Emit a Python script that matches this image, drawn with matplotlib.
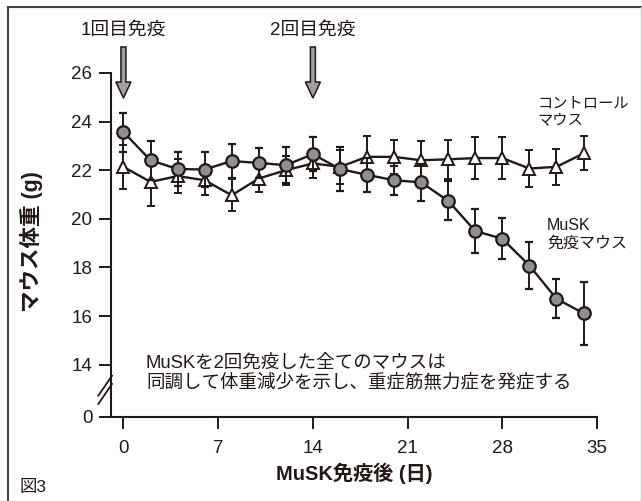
import numpy as np
import matplotlib
matplotlib.use('Agg')
import matplotlib.pyplot as plt
from matplotlib.patches import FancyArrow
from matplotlib.lines import Line2D

plt.rcParams['font.family'] = ['Liberation Sans', 'Noto Sans CJK JP']

# days after MuSK immunization
days = [0, 2, 4, 6, 8, 10, 12, 14, 16, 18, 20, 22, 24, 26, 28, 30, 32, 34]

# MuSK immunized mice (circles)
musk_mean = [23.57, 22.41, 22.05, 22.03, 22.38, 22.30, 22.21, 22.66, 22.05,
             21.81, 21.59, 21.50, 20.74, 19.50, 19.18, 18.08, 16.71, 16.12]
musk_err = [0.8, 0.8, 0.7, 0.7, 0.7, 0.6, 0.75, 0.7, 0.9,
            0.7, 0.6, 0.75, 0.8, 0.9, 0.85, 0.95, 0.8, 1.3]

# control mice (triangles)
ctrl_mean = [22.14, 21.52, 21.76, 21.59, 20.97, 21.66, 22.00, 22.28, 22.14,
             22.55, 22.55, 22.41, 22.45, 22.50, 22.50, 22.07, 22.14, 22.69]
ctrl_err = [0.9, 1.0, 0.7, 0.6, 0.65, 0.55, 0.6, 0.6, 0.7,
            0.85, 0.7, 0.8, 0.8, 0.85, 0.85, 0.75, 0.75, 0.7]

xticks = [0, 7, 14, 21, 28, 35]
ytick_vals = [0, 14, 16, 18, 20, 22, 24, 26]
immunizations = [0, 14]
immun_labels = ['1回目免疫', '2回目免疫']

# the y axis is broken: 0 is drawn just below 14
zero_pos = 11.85
ytick_pos = [zero_pos if v == 0 else v for v in ytick_vals]

fig = plt.figure(figsize=(6.42, 5.01), dpi=100)
ax = fig.add_axes([0.1729, 0.1677, 0.930 - 0.1729, 0.8543 - 0.1677])

ax.errorbar(days, ctrl_mean, yerr=ctrl_err, color='#231815', lw=1.7,
            marker='^', ms=8.5, mfc='white', mec='#231815', mew=1.4,
            elinewidth=1.4, capsize=3, capthick=1.4, zorder=3)
ax.errorbar(days, musk_mean, yerr=musk_err, color='#231815', lw=1.7,
            marker='o', ms=9, mfc='#8f8f8f', mec='#231815', mew=1.6,
            elinewidth=1.4, capsize=3, capthick=1.4, zorder=4)

ax.set_xlim(-0.92, 35)
ax.set_ylim(zero_pos, 26)
ax.set_xticks(xticks)
ax.set_yticks(ytick_pos)
ax.set_yticklabels([str(v) for v in ytick_vals])
ax.tick_params(axis='both', labelsize=13.5, width=1.4, length=8.5,
               color='#231815', labelcolor='#231815')
ax.tick_params(axis='y', pad=5)
ax.tick_params(axis='x', pad=8)
for s in ['top', 'right']:
    ax.spines[s].set_visible(False)
for s in ['left', 'bottom']:
    ax.spines[s].set_linewidth(1.5)
    ax.spines[s].set_color('#231815')

# axis break marks
for dy in (-0.012, 0.012):
    ax.add_line(Line2D([-0.026, 0.002], [0.05 + dy, 0.108 + dy],
                       transform=ax.transAxes, color='#231815', lw=1.3,
                       clip_on=False))

ax.set_xlabel('MuSK免疫後 (日)', fontsize=14.5, fontweight='bold',
              color='#231815', labelpad=4)
ax.set_ylabel('マウス体重 (g)', fontsize=15.5, fontweight='bold',
              color='#231815')
ax.yaxis.set_label_coords(-0.14, 0.51)

# immunization arrows
for d, lab in zip(immunizations, immun_labels):
    ax.add_patch(FancyArrow(d, 27.07, 0, -2.1, width=0.37, head_width=1.11,
                            head_length=0.66, length_includes_head=True,
                            fc='#a0a0a0', ec='#231815', lw=1.1,
                            clip_on=False, zorder=5))
    ax.text(d, 27.77, lab, ha='center', va='center', fontsize=13.5,
            color='#231815', clip_on=False)

ax.text(30.6, 24.4, 'コントロール\nマウス', fontsize=11, color='#231815',
        ha='left', va='center', linespacing=1.25)
ax.text(31.3, 19.35, 'MuSK\n免疫マウス', fontsize=11.5, color='#231815',
        ha='left', va='center', linespacing=1.2)
ax.text(1.66, 13.65, 'MuSKを2回免疫した全てのマウスは\n'
        '同調して体重減少を示し、重症筋無力症を発症する',
        fontsize=13.3, color='#231815', ha='left', va='center',
        linespacing=1.1)

fig.text(0.031, 0.026, '図3', fontsize=12.5, color='#231815',
         ha='left', va='center')

# outer frame
fig.add_artist(Line2D([8 / 642, 8 / 642], [0, 1 - 7 / 501], color='#444444',
                      lw=1.5, transform=fig.transFigure))
fig.add_artist(Line2D([8 / 642, 641 / 642], [1 - 7 / 501, 1 - 7 / 501],
                      color='#444444', lw=1.5, transform=fig.transFigure))
fig.add_artist(Line2D([640.5 / 642, 640.5 / 642], [0, 1 - 7 / 501],
                      color='#cccccc', lw=1.0, transform=fig.transFigure))

fig.savefig('out.png', dpi=100)
